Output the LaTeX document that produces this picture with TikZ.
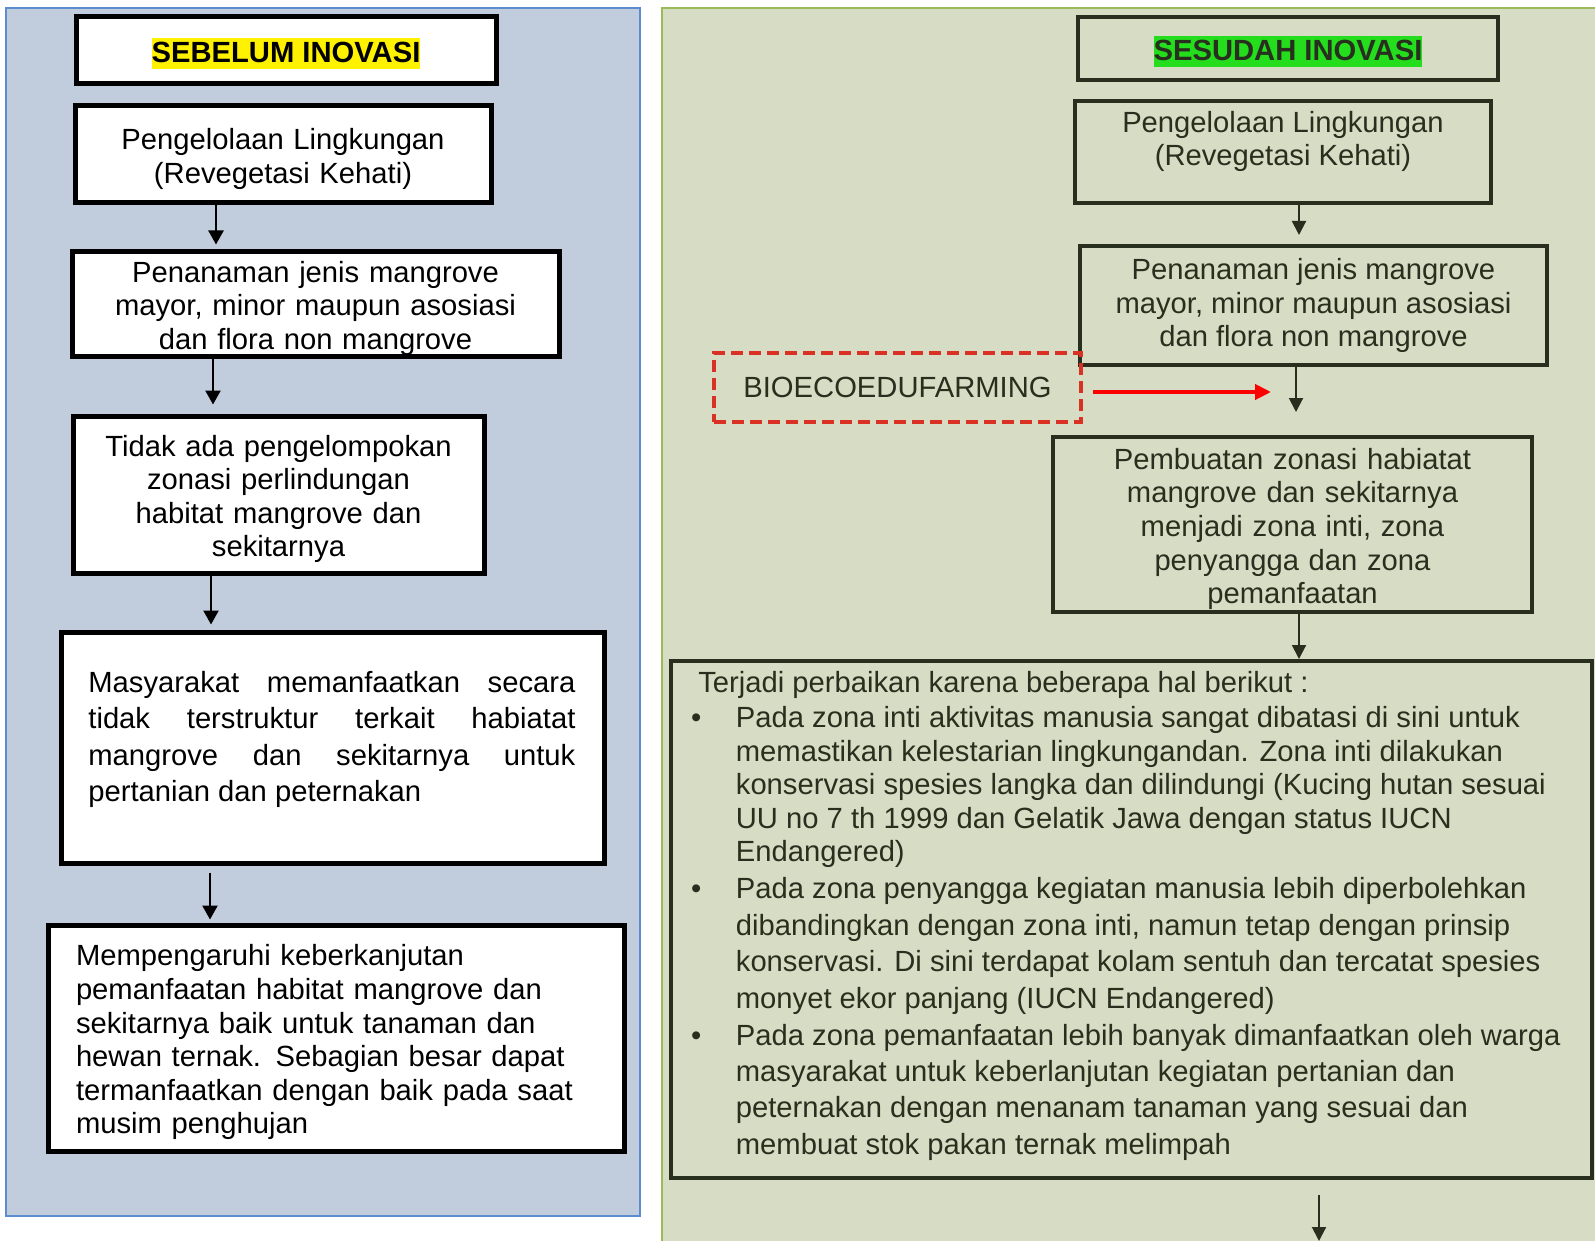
\documentclass[tikz,border=0pt]{standalone}
\usepackage{fontspec}
\setmainfont{Liberation Sans}
\usetikzlibrary{positioning,arrows.meta}
\definecolor{panelblue}{RGB}{193,204,221}
\definecolor{edgeblue}{RGB}{91,140,205}
\definecolor{panelgreen}{RGB}{214,221,196}
\definecolor{edgegreen}{RGB}{155,187,89}
\definecolor{darkolive}{RGB}{40,47,30}
\definecolor{hlgreen}{RGB}{36,222,30}
\definecolor{dashred}{RGB}{217,50,37}
\newcommand{\hilite}[2]{{\setlength{\fboxsep}{0pt}\colorbox{#1}{\rule[-3.4pt]{0pt}{15.5pt}#2}}}
\newcommand{\jline}[1]{\makebox[243.5pt][s]{#1}}
\newcommand{\bulitem}{\makebox[22.4pt][l]{\textbullet}}
\newcommand{\itemind}{\hspace*{22.4pt}}

\begin{document}
\begin{tikzpicture}[x=0.5pt,y=-0.5pt,
      every node/.style={font=\fontsize{14.6pt}{16.8pt}\selectfont},
      panelL/.style={draw=edgeblue,line width=0.8pt,fill=panelblue},
      panelR/.style={draw=edgegreen,line width=0.8pt,fill=panelgreen},
      strutted/.style={execute at begin node={\rule{0pt}{15pt}}},
      boxL/.style={draw=black,line width=2.5pt,fill=white,align=center,inner sep=0pt,strutted},
      boxR/.style={draw=darkolive,line width=2pt,text=darkolive,align=center,inner sep=0pt},
      txtR/.style={text=darkolive,align=center,inner sep=0pt},
      dashbox/.style={draw=dashred,line width=1.8pt,dash pattern=on 6pt off 3pt,text=darkolive,inner sep=0pt},
      arr/.style={-{Triangle[length=7pt,width=7.5pt]},line width=1.2pt},
      arrR/.style={-{Triangle[length=7pt,width=7pt]},line width=1pt,darkolive},
      redarr/.style={-{Triangle[length=8pt,width=7.5pt]},line width=2.4pt,red}]
    \useasboundingbox (0,0) rectangle (1595,1241);
    \clip (0,0) rectangle (1595,1241);
    % sebelum
    \draw[panelL] (6,8) rectangle (640,1216);
    \node[boxL,minimum width=210pt,minimum height=33.5pt] (hL) at (286,50.5) {\bfseries\hilite{yellow}{SEBELUM INOVASI}};
    \node[boxL,text width=200pt,minimum width=208pt,minimum height=48.5pt] (L1) at (283,154.5) {Pengelolaan Lingkungan\\(Revegetasi Kehati)};
    \node[boxL,text width=235pt,minimum width=243.5pt,minimum height=52pt] (L2) at (315.5,304) {Penanaman jenis mangrove\\mayor, minor maupun asosiasi\\dan flora non mangrove};
    \node[boxL,text width=197pt,minimum width=205.5pt,minimum height=78.5pt] (L3) at (278.5,494.5) {Tidak ada pengelompokan\\zonasi perlindungan\\habitat mangrove dan\\sekitarnya};
    \node[boxL,minimum width=271.5pt,minimum height=115.5pt] (L4) at (332.5,747.5) {};
    \node[inner sep=0pt,align=left,font=\fontsize{14.6pt}{18.2pt}\selectfont,below right=20.75pt and 14.75pt of L4.north west] (L4t)
      {\jline{Masyarakat memanfaatkan secara}\\\jline{tidak terstruktur terkait habiatat}\\\jline{mangrove dan sekitarnya untuk}\\pertanian dan peternakan};
    \node[boxL,align=left,text width=260pt,inner xsep=14pt,minimum height=113pt] (L5) at (336,1038)
      {Mempengaruhi keberkanjutan\\pemanfaatan habitat mangrove dan\\sekitarnya baik untuk tanaman dan\\hewan ternak. Sebagian besar dapat\\termanfaatkan dengan baik pada saat\\musim penghujan};
    \draw[arr,shorten >=2.5pt] (L1.south -| 216,0) -- (L2.north -| 216,0);
    \draw[arr,shorten >=4.5pt] (L2.south -| 213,0) -- (L3.north -| 213,0);
    \draw[arr,shorten >=2.5pt] (L3.south -| 211,0) -- (L4.north -| 211,0);
    \draw[arr,shorten <=3.5pt,shorten >=1.5pt] (L4.south -| 210,0) -- (L5.north -| 210,0);
    % sesudah
    \draw[panelR] (662,8) rectangle (1610,1260);
    \node[boxR,strutted,minimum width=210pt,minimum height=31.5pt] (hR) at (1288,48.5) {\bfseries\hilite{hlgreen}{SESUDAH INOVASI}};
    \node[boxR,minimum width=208pt,minimum height=51pt] (R1) at (1283,152) {};
    \node[txtR,below=5.75pt of R1.north] (R1t) {Pengelolaan Lingkungan\\(Revegetasi Kehati)};
    \node[boxR,minimum width=233.5pt,minimum height=59.5pt] (R2) at (1313.5,305.5) {Penanaman jenis mangrove\\mayor, minor maupun asosiasi\\dan flora non mangrove};
    \node[dashbox,minimum width=183.5pt,minimum height=34.5pt] (bio) at (897.5,387.5) {BIOECOEDUFARMING};
    \node[boxR,strutted,text width=231.5pt,minimum width=239.5pt,minimum height=87.5pt] (R3) at (1292.5,524.5) {Pembuatan zonasi habiatat\\mangrove dan sekitarnya\\menjadi zona inti, zona\\penyangga dan zona\\pemanfaatan};
    \node[boxR,minimum width=460.5pt,minimum height=258.5pt] (R4) at (1131.5,919.5) {};
    \node[txtR,align=left,below right=6pt and 10.85pt of R4.north west] (R4t)
      {\hspace*{3.6pt}Terjadi perbaikan karena beberapa hal berikut :\\[0.7pt]
       \bulitem Pada zona inti aktivitas manusia sangat dibatasi di sini untuk\\
       \itemind memastikan kelestarian lingkungandan. Zona inti dilakukan\\
       \itemind konservasi spesies langka dan dilindungi (Kucing hutan sesuai\\
       \itemind UU no 7 th 1999 dan Gelatik Jawa dengan status IUCN\\
       \itemind Endangered)\\[1.7pt]
       \bulitem Pada zona penyangga kegiatan manusia lebih diperbolehkan\\[1.4pt]
       \itemind dibandingkan dengan zona inti, namun tetap dengan prinsip\\[1.4pt]
       \itemind konservasi. Di sini terdapat kolam sentuh dan tercatat spesies\\[1.4pt]
       \itemind monyet ekor panjang (IUCN Endangered)\\[1.7pt]
       \bulitem Pada zona pemanfaatan lebih banyak dimanfaatkan oleh warga\\[1.4pt]
       \itemind masyarakat untuk keberlanjutan kegiatan pertanian dan\\[1.4pt]
       \itemind peternakan dengan menanam tanaman yang sesuai dan\\[1.4pt]
       \itemind membuat stok pakan ternak melimpah};
    \coordinate (bioend) at (1271,392);
    \coordinate (down) at (1319,1241);
    \draw[redarr,shorten <=5pt] (bio.east |- bioend) -- (bioend);
    \draw[arrR,shorten >=4.5pt] (R1.south -| 1299,0) -- (R2.north -| 1299,0);
    \draw[arrR,shorten >=11.5pt] (R2.south -| 1296,0) -- (R3.north -| 1296,0);
    \draw[arrR] (R3.south -| 1299,0) -- (R4.north -| 1299,0);
    \draw[arrR,shorten <=7.5pt] (R4.south -| down) -- (down);
  \end{tikzpicture}
\end{document}
